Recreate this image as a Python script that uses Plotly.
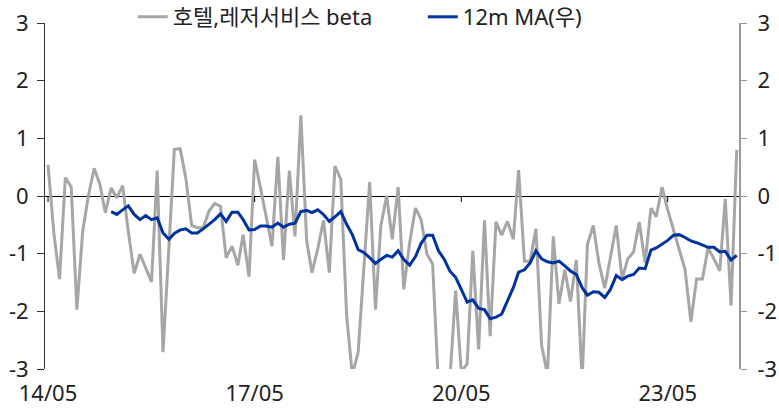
import pandas as pd
import plotly.graph_objects as go

months = pd.date_range("2014-05-01", periods=121, freq="MS")

beta = [0.54, -0.64, -1.44, 0.32, 0.155, -1.97, -0.61, 0.0, 0.48, 0.19,
        -0.29, 0.14, -0.03, 0.18, -0.62, -1.34, -1.01, -1.24, -1.49, 0.44,
        -2.71, -0.9, 0.81, 0.82, 0.31, -0.51, -0.55, -0.55, -0.26, -0.13,
        -0.18, -1.07, -0.87, -1.2, -0.67, -1.40, 0.63, 0.14, -0.35, -0.87,
        0.68, -1.11, 0.44, -0.70, 1.40, -0.78, -1.33, -0.91, -0.42, -1.33,
        0.52, 0.29, -2.08, -3.1, -2.71, -1.3, 0.24, -1.97, -0.52, 0.0,
        -0.75, 0.155, -1.62, -0.81, -0.21, -0.41, -1.01, -1.18, -3.3, -3.5,
        -3.2, -1.64, -3.05, -2.91, -0.95, -2.66, -0.42, -2.43, -0.45, -0.68,
        -0.44, -0.75, 0.45, -1.13, -1.13, -0.57, -2.59, -3.1, -0.70, -1.87,
        -1.28, -1.83, -1.11, -3.2, -0.84, -0.51, -1.16, -1.60, -1.04, -0.51,
        -1.44, -1.09, -0.97, -0.45, -1.16, -0.21, -0.36, 0.155, -0.24, -0.59,
        -0.95, -1.28, -2.18, -1.44, -1.44, -0.90, -1.09, -1.30, -0.05, -1.90,
        0.80]

ma12 = [None] * 11 + [
    -0.27, -0.32, -0.24, -0.17, -0.32, -0.41, -0.34, -0.41, -0.38,
    -0.64, -0.75, -0.65, -0.59, -0.57, -0.64, -0.64, -0.57, -0.49, -0.41,
    -0.31, -0.44, -0.28, -0.28, -0.41, -0.59, -0.58, -0.52, -0.52, -0.54,
    -0.47, -0.54, -0.49, -0.47, -0.27, -0.25, -0.29, -0.24, -0.32, -0.44,
    -0.36, -0.27, -0.49, -0.67, -0.93, -0.98, -1.07, -1.17, -1.10, -1.03,
    -1.06, -0.95, -1.10, -1.20, -1.05, -0.82, -0.68, -0.68, -0.95, -1.10,
    -1.30, -1.41, -1.62, -1.84, -1.80, -1.95, -1.97, -2.13, -2.10, -2.05,
    -1.82, -1.59, -1.32, -1.28, -1.16, -0.95, -1.09, -1.14, -1.16, -1.13,
    -1.21, -1.30, -1.36, -1.59, -1.72, -1.66, -1.67, -1.76, -1.62, -1.38,
    -1.45, -1.39, -1.36, -1.25, -1.26, -0.94, -0.90, -0.84, -0.77, -0.68,
    -0.67, -0.72, -0.78, -0.81, -0.85, -0.89, -0.89, -0.97, -0.96, -1.11,
    -1.03]

x_tick_vals = ["2014-05-01", "2017-05-01", "2020-05-01", "2023-05-01"]
x_tick_text = ["14/05", "17/05", "20/05", "23/05"]
y_tick_vals = [3, 2, 1, 0, -1, -2, -3]
y_tick_text = ["3", "2", "1", "0", "-1", "-2", "-3"]

FONT = "Noto Sans, Noto Sans CJK KR"
xrange = ["2014-04-15", "2024-05-13"]

fig = go.Figure()
fig.add_trace(go.Scatter(
    x=months, y=beta, name="호텔,레저서비스 beta", mode="lines",
    line=dict(color="#A6A6A6", width=3), yaxis="y"))
fig.add_trace(go.Scatter(
    x=months, y=ma12, name="12m MA(우)", mode="lines",
    line=dict(color="#0033A0", width=3), yaxis="y2"))

# small downward tick marks on the zero line at each labelled date
for tv in x_tick_vals:
    fig.add_shape(type="line", xref="x", yref="y", x0=tv, x1=tv,
                  ysizemode="pixel", yanchor=0, y0=0, y1=-6,
                  line=dict(color="black", width=1))

fig.update_layout(
    width=779, height=408,
    margin=dict(l=45, r=40, t=23, b=39, autoexpand=False),
    paper_bgcolor="white", plot_bgcolor="white",
    font=dict(family=FONT, size=22, color="#222222"),
    showlegend=True,
    legend=dict(orientation="h", x=0.1265, xanchor="left",
                yref="container", y=1 - 17 / 408, yanchor="middle",
                bgcolor="rgba(0,0,0,0)", entrywidth=245,
                entrywidthmode="pixels",
                font=dict(family=FONT, size=22, color="#222222")),
    xaxis=dict(type="date", range=xrange, tickvals=x_tick_vals,
               ticktext=x_tick_text, showgrid=False, zeroline=False,
               showline=False, ticks="", ticklabelstandoff=9,
               ticklabeloverflow="allow"),
    yaxis=dict(range=[-3, 3], tickvals=y_tick_vals, ticktext=y_tick_text,
               showgrid=False, zeroline=True, zerolinecolor="black",
               zerolinewidth=1, showline=True, linecolor="#333333",
               linewidth=1, ticks="outside", ticklen=7, tickcolor="#333333",
               ticklabelstandoff=4, ticklabeloverflow="allow"),
    yaxis2=dict(range=[-3, 3], tickvals=y_tick_vals, ticktext=y_tick_text,
                overlaying="y", side="right",
                showgrid=False, zeroline=False, showline=True,
                linecolor="#999999", linewidth=2, ticks="outside", ticklen=6,
                tickcolor="#999999", ticklabelstandoff=6,
                ticklabeloverflow="allow"),
)

fig.write_html("out.html",
               config={"displayModeBar": False},
               post_script="document.body.style.margin='0';")
